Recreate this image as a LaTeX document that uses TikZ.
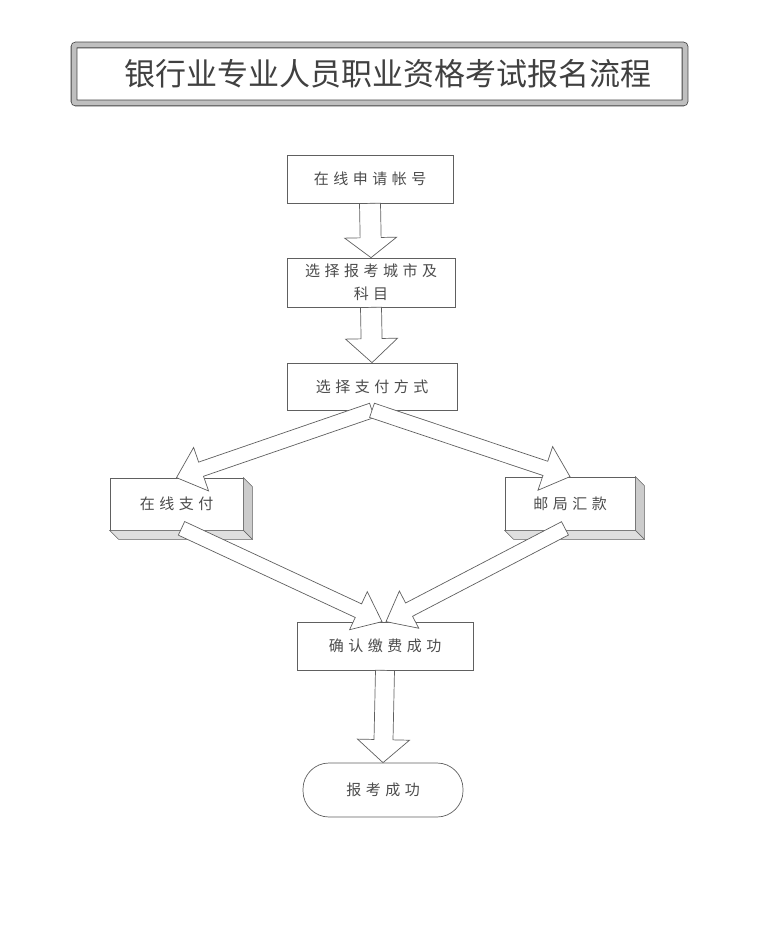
\documentclass[tikz,border=0pt]{standalone}
\usepackage{fontspec}
\newfontfamily\cjk[LetterSpace=30]{Noto Sans CJK SC}
\newfontfamily\cjktitle{Noto Sans CJK SC}
\usetikzlibrary{calc}

\tikzset{
  titleframe/.style={draw=gray!55!black, line width=0.8pt, double=gray!50, double distance=5pt, rounded corners=2pt},
  titletext/.style={font=\cjktitle\fontsize{31}{31}\selectfont, text=black!75},
  stepbox/.style={draw=gray!75!black, fill=white, line width=0.7pt, inner sep=0pt,
    text=black!70, font=\cjk\fontsize{15}{23}\selectfont, align=center},
  endbox/.style={stepbox, rounded corners=26pt},
  hollow/.style={draw=gray!75!black, fill=white, line width=0.7pt, line join=miter},
  sideface/.style={draw=gray!75!black, line width=0.5pt, fill=gray!40},
}

% block arrow: from, to, shaft half width, head half width, head length
\newcommand{\blockarrow}[5]{%
  \draw[hollow] let \p1=($(#2)-(#1)$), \n1={atan2(\y1,\x1)}, \n2={veclen(\x1,\y1)} in
    [shift={(#1)}, rotate=\n1]
    (0,#3) -- ({\n2-#5},#3) -- ({\n2-#5},#4) -- (\n2,0) -- ({\n2-#5},-#4)
    -- ({\n2-#5},-#3) -- (0,-#3) -- cycle;
}

\begin{document}
\begin{tikzpicture}[x=1pt, y=-1pt]
\useasboundingbox (0,0) rectangle (782,941);

% title
\draw[titleframe] (74,45) rectangle (685,103);
\node[titletext] (title) at (388,74) {银行业专业人员职业资格考试报名流程};

% steps
\node[stepbox, minimum width=166pt, minimum height=48pt] (apply) at (370,179) {在线申请帐号};
\node[stepbox, minimum width=168pt, minimum height=49pt] (city) at (371,282.5) {选择报考城市及\\科目};
\node[stepbox, minimum width=170pt, minimum height=47pt] (pay) at (372,386.5) {选择支付方式};
\node[stepbox, minimum width=133pt, minimum height=52pt] (online) at (176.5,504) {在线支付};
\node[stepbox, minimum width=130pt, minimum height=53pt] (post) at (570,503.5) {邮局汇款};
\node[stepbox, minimum width=176pt, minimum height=48pt] (confirm) at (385,646) {确认缴费成功};
\node[endbox, minimum width=160pt, minimum height=54pt] (done) at (383,790) {报考成功};

% 3d sides
\foreach \b in {online,post} {
  \draw[sideface] (\b.north east) -- ++(9,9) -- ($(\b.south east)+(9,9)$) -- (\b.south east) -- cycle;
  \draw[sideface, fill=gray!25] (\b.south west) -- ($(\b.south west)+(9,9)$)
    -- ($(\b.south east)+(9,9)$) -- (\b.south east) -- cycle;
}

% arrow ends
\coordinate (online out) at ($(online.south)+(5,-2)$);
\coordinate (post out) at ($(post.south)+(-5,-2)$);
\coordinate (confirm inl) at ($(confirm.north)+(-3,0)$);
\coordinate (confirm inr) at ($(confirm.north)+(1,0)$);

% arrows
\blockarrow{apply.south}{city.north}{10.5}{26}{20}
\blockarrow{city.south}{pay.north}{10.5}{26}{24}
\blockarrow{pay.south}{online.north}{7.5}{23}{26}
\blockarrow{pay.south}{post.north}{7.5}{23}{26}
\blockarrow{online out}{confirm inl}{7.5}{21}{26}
\blockarrow{post out}{confirm inr}{7.5}{21}{26}
\blockarrow{confirm.south}{done.north}{9.5}{26}{23}
\end{tikzpicture}
\end{document}
